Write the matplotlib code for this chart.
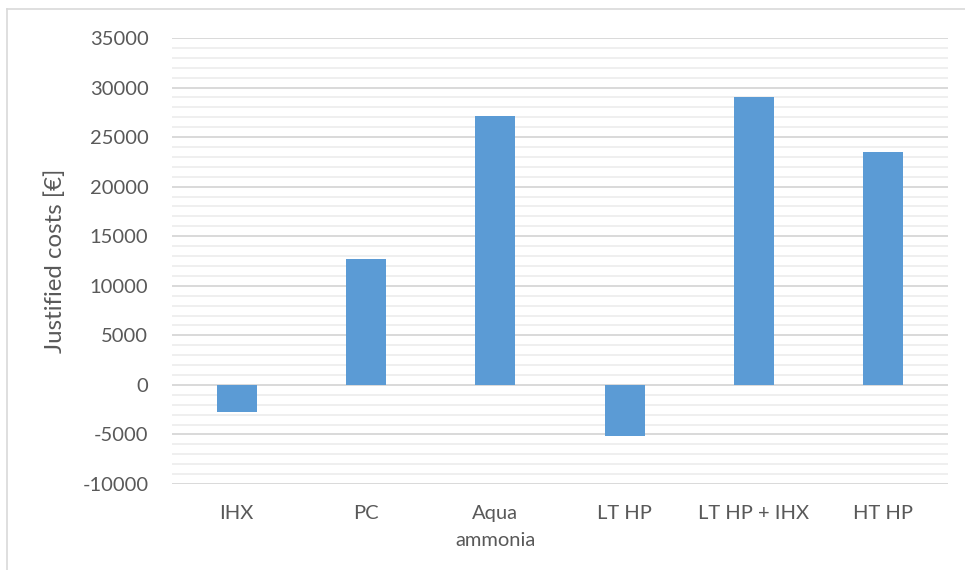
import matplotlib
matplotlib.use("Agg")
import matplotlib.pyplot as plt
from matplotlib.lines import Line2D
from matplotlib.ticker import MultipleLocator
import numpy as np

categories = ["IHX", "PC", "Aqua\nammonia", "LT HP", "LT HP + IHX", "HT HP"]
justified_costs = [-2750, 12700, 27100, -5200, 29000, 23500]
y_ticks = [-10000, -5000, 0, 5000, 10000, 15000, 20000, 25000, 30000, 35000]

TEXT = "#595959"
BAR = "#5B9BD5"

plt.rcParams["font.family"] = ["Lato", "DejaVu Sans"]

fig = plt.figure(figsize=(9.65, 5.7), dpi=100)
W, H = 965, 570
ax = fig.add_axes([172 / W, 1 - 484 / H, (948 - 172) / W, (484 - 38) / H])

x = np.arange(len(categories))
ax.bar(x, justified_costs, width=0.31, color=BAR, zorder=3)

ax.set_xlim(-0.5, len(categories) - 0.5)
ax.set_ylim(y_ticks[0], y_ticks[-1])
ax.set_yticks(y_ticks)
ax.set_yticklabels([str(v) for v in y_ticks])
ax.yaxis.set_minor_locator(MultipleLocator(1000))
ax.set_xticks(x)
ax.set_xticklabels(categories, linespacing=1.75)

ax.grid(which="minor", axis="y", color="#EFEFEF", linewidth=1.4, zorder=0)
ax.grid(which="major", axis="y", color="#D9D9D9", linewidth=1.4, zorder=1)
ax.set_axisbelow(True)

for s in ax.spines.values():
    s.set_visible(False)

ax.tick_params(axis="both", which="both", length=0, colors=TEXT, labelsize=14.5)
ax.tick_params(axis="y", pad=17)
ax.tick_params(axis="x", pad=15)

ax.set_ylabel("Justified costs [€]", color=TEXT, fontsize=17.3, labelpad=12)

# chart frame
fig.add_artist(Line2D([7 / W, 1], [1 - 9 / H, 1 - 9 / H], color="#D9D9D9", linewidth=1.2))
fig.add_artist(Line2D([7 / W, 7 / W], [0, 1 - 9 / H], color="#D9D9D9", linewidth=1.2))

fig.savefig("out.png", dpi=100, facecolor="white")
